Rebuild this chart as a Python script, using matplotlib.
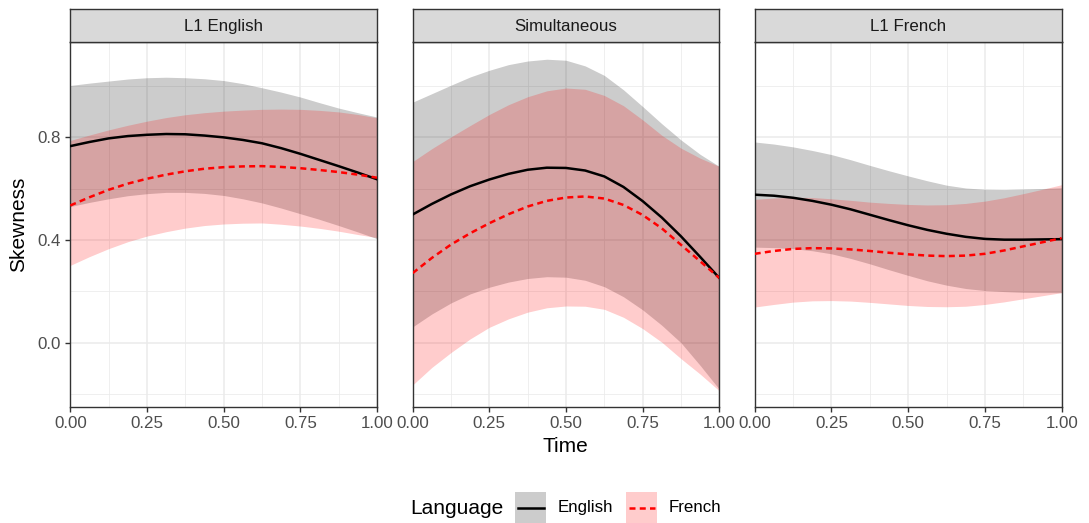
import numpy as np
import matplotlib
matplotlib.use("Agg")
import matplotlib.pyplot as plt
from matplotlib.patches import Rectangle

plt.rcParams['font.family'] = ['Liberation Sans', 'DejaVu Sans']

# ---- data ----
time = [0.0, 0.0625, 0.125, 0.1875, 0.25, 0.3125, 0.375, 0.4375, 0.5,
        0.5625, 0.625, 0.6875, 0.75, 0.8125, 0.875, 0.9375, 1.0]
panels = ["L1 English", "Simultaneous", "L1 French"]
languages = ["English", "French"]

# L1 English
l1en_eng_fit = [0.765, 0.781, 0.795, 0.804, 0.809, 0.812, 0.811, 0.806, 0.799,
                0.789, 0.776, 0.757, 0.735, 0.711, 0.687, 0.662, 0.636]
l1en_eng_hi = [1.001, 1.010, 1.018, 1.026, 1.031, 1.033, 1.031, 1.027, 1.020,
               1.008, 0.992, 0.975, 0.956, 0.934, 0.913, 0.895, 0.878]
l1en_eng_lo = [0.530, 0.546, 0.560, 0.572, 0.580, 0.585, 0.585, 0.581, 0.573,
               0.560, 0.544, 0.524, 0.502, 0.480, 0.456, 0.431, 0.405]
l1en_fre_fit = [0.534, 0.566, 0.595, 0.619, 0.638, 0.654, 0.667, 0.677, 0.683,
                0.686, 0.687, 0.684, 0.679, 0.672, 0.664, 0.654, 0.642]
l1en_fre_hi = [0.787, 0.808, 0.828, 0.846, 0.862, 0.876, 0.887, 0.895, 0.901,
               0.905, 0.908, 0.909, 0.908, 0.904, 0.898, 0.888, 0.875]
l1en_fre_lo = [0.301, 0.335, 0.366, 0.393, 0.415, 0.432, 0.446, 0.456, 0.462,
               0.465, 0.466, 0.461, 0.454, 0.445, 0.434, 0.421, 0.409]

# Simultaneous
sim_eng_fit = [0.499, 0.540, 0.577, 0.609, 0.635, 0.657, 0.673, 0.681, 0.680,
               0.670, 0.647, 0.606, 0.551, 0.487, 0.414, 0.334, 0.252]
sim_eng_hi = [0.936, 0.969, 1.002, 1.034, 1.060, 1.082, 1.096, 1.103, 1.099,
              1.077, 1.040, 0.984, 0.919, 0.852, 0.789, 0.733, 0.686]
sim_eng_lo = [0.062, 0.112, 0.155, 0.190, 0.216, 0.236, 0.250, 0.257, 0.255,
              0.243, 0.218, 0.179, 0.128, 0.068, 0.000, -0.088, -0.181]
sim_fre_fit = [0.271, 0.330, 0.382, 0.426, 0.465, 0.500, 0.530, 0.552, 0.565,
               0.569, 0.561, 0.536, 0.497, 0.445, 0.381, 0.317, 0.252]
sim_fre_hi = [0.705, 0.755, 0.801, 0.845, 0.888, 0.926, 0.957, 0.980, 0.991,
              0.986, 0.962, 0.922, 0.867, 0.807, 0.757, 0.718, 0.686]
sim_fre_lo = [-0.164, -0.096, -0.038, 0.015, 0.060, 0.093, 0.119, 0.136, 0.143,
              0.142, 0.130, 0.099, 0.055, 0.002, -0.062, -0.122, -0.187]

# L1 French
l1fr_eng_fit = [0.576, 0.572, 0.564, 0.552, 0.537, 0.519, 0.498, 0.477, 0.457,
                0.439, 0.424, 0.412, 0.404, 0.401, 0.401, 0.402, 0.403]
l1fr_eng_hi = [0.781, 0.773, 0.762, 0.748, 0.732, 0.712, 0.690, 0.669, 0.649,
               0.630, 0.613, 0.602, 0.597, 0.596, 0.598, 0.600, 0.603]
l1fr_eng_lo = [0.372, 0.370, 0.366, 0.358, 0.346, 0.328, 0.307, 0.284, 0.262,
               0.241, 0.224, 0.211, 0.203, 0.199, 0.196, 0.195, 0.195]
l1fr_fre_fit = [0.346, 0.357, 0.365, 0.368, 0.367, 0.363, 0.357, 0.350, 0.344,
                0.339, 0.337, 0.339, 0.346, 0.359, 0.375, 0.391, 0.407]
l1fr_fre_hi = [0.558, 0.563, 0.566, 0.565, 0.560, 0.554, 0.547, 0.542, 0.538,
               0.536, 0.537, 0.542, 0.551, 0.564, 0.580, 0.597, 0.615]
l1fr_fre_lo = [0.139, 0.149, 0.158, 0.163, 0.164, 0.162, 0.157, 0.151, 0.145,
               0.141, 0.140, 0.142, 0.149, 0.159, 0.171, 0.183, 0.195]

x_ticks = [0.0, 0.25, 0.5, 0.75, 1.0]
x_ticklabels = ["0.00", "0.25", "0.50", "0.75", "1.00"]
y_ticks = [0.0, 0.4, 0.8]
y_ticklabels = ["0.0", "0.4", "0.8"]

series = {
    "L1 English": {"English": (l1en_eng_fit, l1en_eng_lo, l1en_eng_hi),
                   "French": (l1en_fre_fit, l1en_fre_lo, l1en_fre_hi)},
    "Simultaneous": {"English": (sim_eng_fit, sim_eng_lo, sim_eng_hi),
                     "French": (sim_fre_fit, sim_fre_lo, sim_fre_hi)},
    "L1 French": {"English": (l1fr_eng_fit, l1fr_eng_lo, l1fr_eng_hi),
                  "French": (l1fr_fre_fit, l1fr_fre_lo, l1fr_fre_hi)},
}

line_colors = {"English": "black", "French": "#FF0000"}
dash = (0, (2.4, 1.7))
line_styles = {"English": "-", "French": dash}
fill_colors = {"English": "black", "French": "#FF0000"}
LW = 1.8

W, H = 1089, 523
fig = plt.figure(figsize=(W / 100, H / 100), dpi=100)

panel_lr = [(70.3, 377.0), (412.7, 719.3), (754.7, 1061.7)]
ptop, pbot = 42.0, 407.0
strip_top = 9.0

tick_col = "#4D4D4D"
FS_TICK = 12.2
FS_TITLE = 15
for i, (name, (l, r)) in enumerate(zip(panels, panel_lr)):
    ax = fig.add_axes([l / W, 1 - pbot / H, (r - l) / W, (pbot - ptop) / H])
    ax.set_xlim(0, 1)
    ax.set_ylim(-0.25, 1.17)
    ax.set_xticks(x_ticks)
    ax.set_xticklabels(x_ticklabels)
    ax.set_xticks([0.125, 0.375, 0.625, 0.875], minor=True)
    ax.set_yticks(y_ticks)
    ax.set_yticks([-0.2, 0.2, 0.6, 1.0], minor=True)
    ax.grid(which="major", color="#EBEBEB", linewidth=1.1, zorder=0)
    ax.grid(which="minor", color="#EBEBEB", linewidth=0.55, zorder=0)
    ax.set_axisbelow(True)
    for lang in languages:
        fit, lo, hi = series[name][lang]
        ax.fill_between(time, lo, hi, color=fill_colors[lang], alpha=0.2,
                        linewidth=0, zorder=1)
    for lang in languages:
        fit, lo, hi = series[name][lang]
        ax.plot(time, fit, color=line_colors[lang], linestyle=line_styles[lang],
                linewidth=LW, zorder=3, dash_capstyle="butt",
                solid_joinstyle="round")
    for s in ax.spines.values():
        s.set_color("#333333")
        s.set_linewidth(1.0)
    ax.tick_params(which="major", length=3.8, color="#333333", labelcolor=tick_col,
                   labelsize=FS_TICK, width=1.0, pad=3.0)
    ax.tick_params(which="minor", length=0)
    if i == 0:
        ax.set_yticklabels(y_ticklabels)
    else:
        ax.tick_params(axis="y", which="major", length=0, labelleft=False)
    # strip
    sax = fig.add_axes([l / W, 1 - ptop / H, (r - l) / W, (ptop - strip_top) / H])
    sax.set_xticks([]); sax.set_yticks([])
    sax.set_facecolor("#D9D9D9")
    for s in sax.spines.values():
        s.set_color("#333333")
        s.set_linewidth(1.0)
    sax.text(0.5, 0.47, name, ha="center", va="center", fontsize=FS_TICK,
             color="#1A1A1A", transform=sax.transAxes)

fig.text(565.5 / W, 1 - 447 / H, "Time", ha="center", va="center", fontsize=FS_TITLE)
fig.text(19 / W, 1 - 224 / H, "Skewness", ha="center", va="center",
         fontsize=FS_TITLE, rotation=90)

# ---- legend (drawn in pixel coordinates on an overlay axes) ----
lax = fig.add_axes([0, 0, 1, 1], zorder=10)
lax.set_xlim(0, W)
lax.set_ylim(H, 0)
lax.axis("off")
lax.patch.set_alpha(0)
lax.text(410, 508, "Language", ha="left", va="center", fontsize=FS_TITLE)
key_x = {"English": 515.0, "French": 626.0}
text_x = {"English": 558.0, "French": 669.0}
key_top, key_size = 492.0, 31.0
for lang in languages:
    kx = key_x[lang]
    lax.add_patch(Rectangle((kx, key_top), key_size, key_size,
                            facecolor=fill_colors[lang], alpha=0.2, edgecolor="none"))
    lax.plot([kx + 2.5, kx + key_size - 2.5], [key_top + key_size / 2] * 2,
             color=line_colors[lang], linestyle=line_styles[lang], linewidth=LW,
             dash_capstyle="butt")
    lax.text(text_x[lang], 507.5, lang, ha="left", va="center", fontsize=FS_TICK)

fig.savefig("out.png", dpi=100)
